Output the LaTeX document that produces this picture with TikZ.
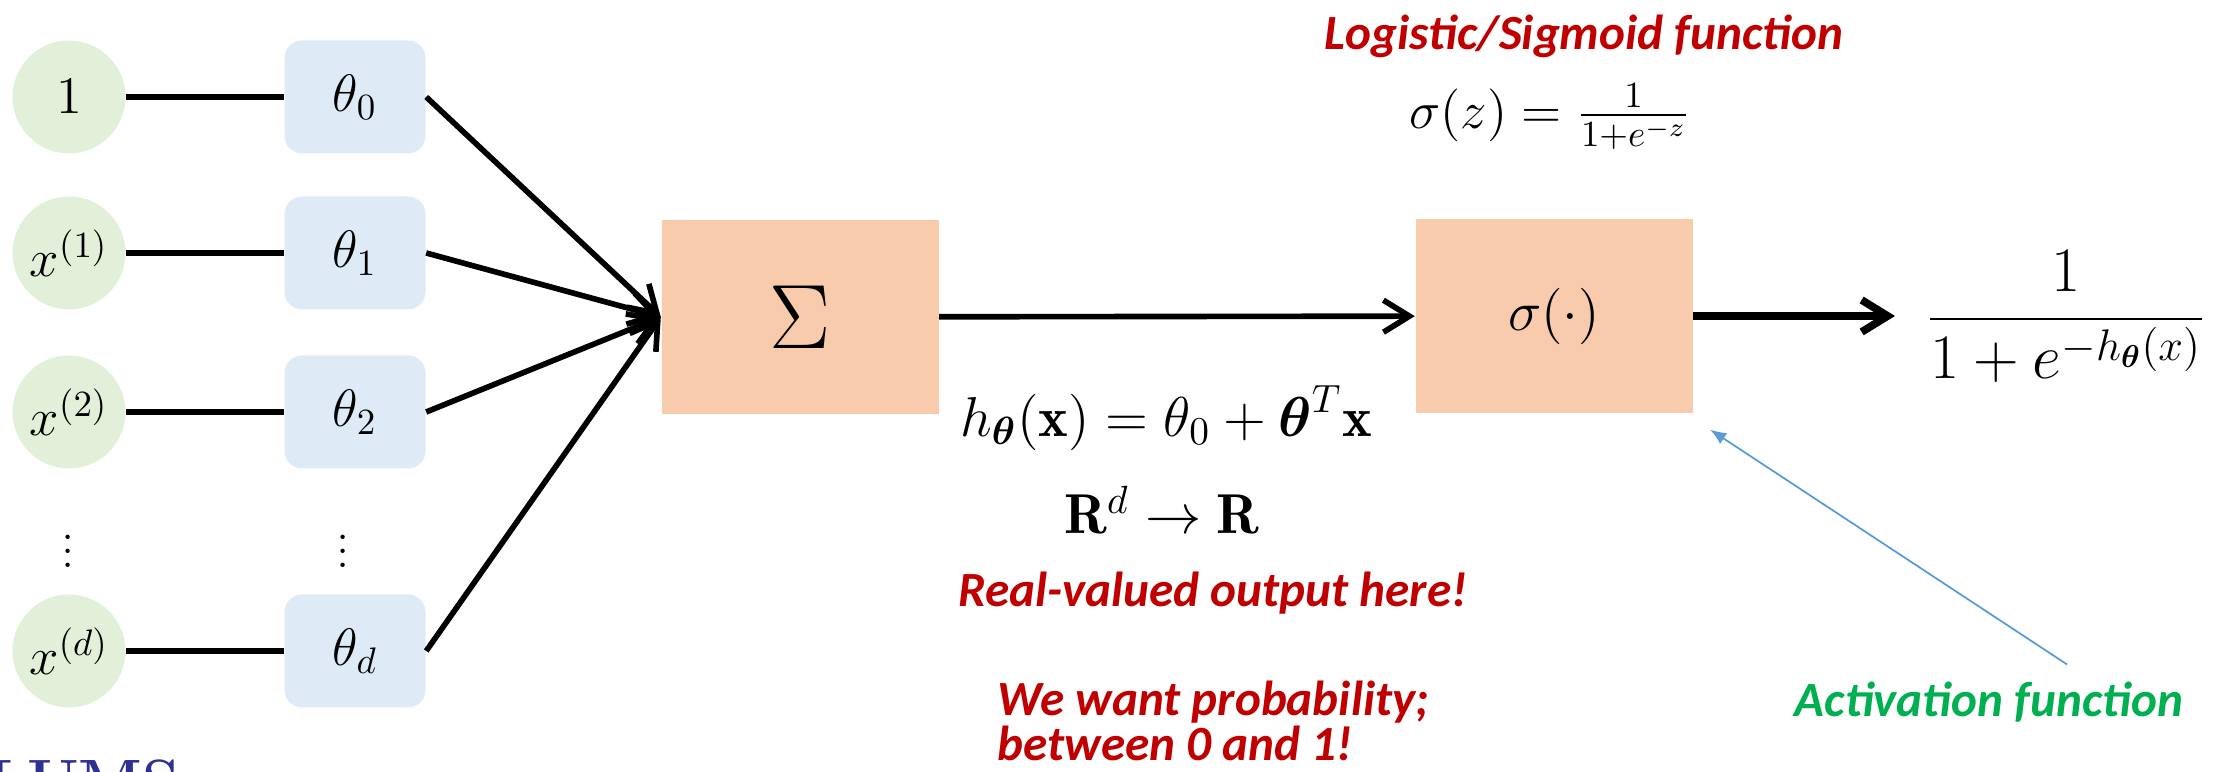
\RequirePackage{fix-cm}
\documentclass[tikz,border=0pt]{standalone}
\usepackage{amsmath}
\usepackage{fontspec}
\newfontfamily\hand{Carlito}
\usetikzlibrary{arrows.meta,positioning}
\definecolor{leaf}{RGB}{226,240,217}
\definecolor{mist}{RGB}{222,235,247}
\definecolor{peach}{RGB}{248,203,173}
\definecolor{crimson}{RGB}{192,0,0}
\definecolor{grass}{RGB}{0,176,80}
\definecolor{steel}{RGB}{91,155,213}
\definecolor{lums}{RGB}{46,49,146}
\tikzset{
  >={Straight Barb[length=2.6mm,width=3.2mm]},
  input/.style={circle,fill=leaf,minimum size=11.3mm,inner sep=0pt},
  weight/.style={fill=mist,rounded corners=5pt,minimum width=14.1mm,minimum height=11.3mm},
  unit/.style={fill=peach,minimum width=27.7mm,minimum height=19.4mm},
  wire/.style={line width=1.6pt},
  pointer/.style={draw=steel,line width=0.5pt,-{Latex[length=1.6mm,width=1.3mm]}},
  note/.style={font=\hand\bfseries\itshape\fontsize{14}{13}\selectfont,text=#1},
  note/.default=crimson,
}
\begin{document}
\begin{tikzpicture}[font=\fontsize{15}{18}\selectfont]
    \useasboundingbox (0,0) rectangle (22.14,7.72);
    % inputs and their weights
    \foreach \n/\y/\v/\w in {0/6.75/1/\theta_0, 1/5.19/x^{(1)}/\theta_1, 2/3.60/x^{(2)}/\theta_2, d/1.21/x^{(d)}/\theta_d} {
      \node[input] (in\n) at (0.69,\y) {$\v$};
      \node[weight] (w\n) at (3.55,\y) {$\w$};
      \draw[wire] (in\n) -- (w\n);
    }
    \node[inner sep=0pt] (vin) at (0.68,2.31) {$\vdots$};
    \node[inner sep=0pt] (vw) at (3.43,2.31) {$\vdots$};
    % summation and activation
    \node[unit] (sum) at (8.00,4.55) {\fontsize{26}{30}\selectfont$\Sigma$};
    \node[unit] (sig) at (15.54,4.56) {\fontsize{16}{19}\selectfont$\sigma(\cdot)$};
    \foreach \n in {0,1,2,d} \draw[wire,->] (w\n.east) -- (sum.west);
    \draw[wire,->] (sum) -- (sig);
    \node[font=\fontsize{18}{22}\selectfont] (prob) at (20.66,4.55) {$\dfrac{1}{1+e^{-h_{\boldsymbol{\theta}}(x)}}$};
    \coordinate (tip) at (18.95,4.56);
    \draw[line width=2.2pt,->] (sig) -- (tip);
    % formulas and remarks
    \node[note] (logi) at (15.84,7.36) {Logistic/Sigmoid function};
    \node (sigdef) at (15.50,6.55) {$\sigma(z)=\frac{1}{1+e^{-z}}$};
    \node[font=\fontsize{16}{19}\selectfont] (hyp) at (11.66,3.54) {$h_{\boldsymbol{\theta}}(\mathbf{x}) = \theta_0 + \boldsymbol{\theta}^T\mathbf{x}$};
    \node[font=\fontsize{16}{19}\selectfont] (map) at (11.62,2.62) {$\mathbf{R}^d \rightarrow \mathbf{R}$};
    \node[note] (real) at (12.13,1.79) {Real-valued output here!};
    \node[note,align=left,anchor=west] (want) at (9.85,0.51) {We want probability;\\between 0 and 1!};
    \node[note=grass] (actf) at (19.89,0.70) {Activation function};
    \draw[pointer] ([xshift=7.8mm,yshift=0.5mm]actf.north) -- ([shift={(1.7mm,-1.6mm)}]sig.south east);
    \node[font=\bfseries\fontsize{17}{20}\selectfont,text=lums,anchor=north west,inner sep=0pt] (lumslogo) at (-0.14,0.13) {LUMS};
  \end{tikzpicture}
\end{document}
